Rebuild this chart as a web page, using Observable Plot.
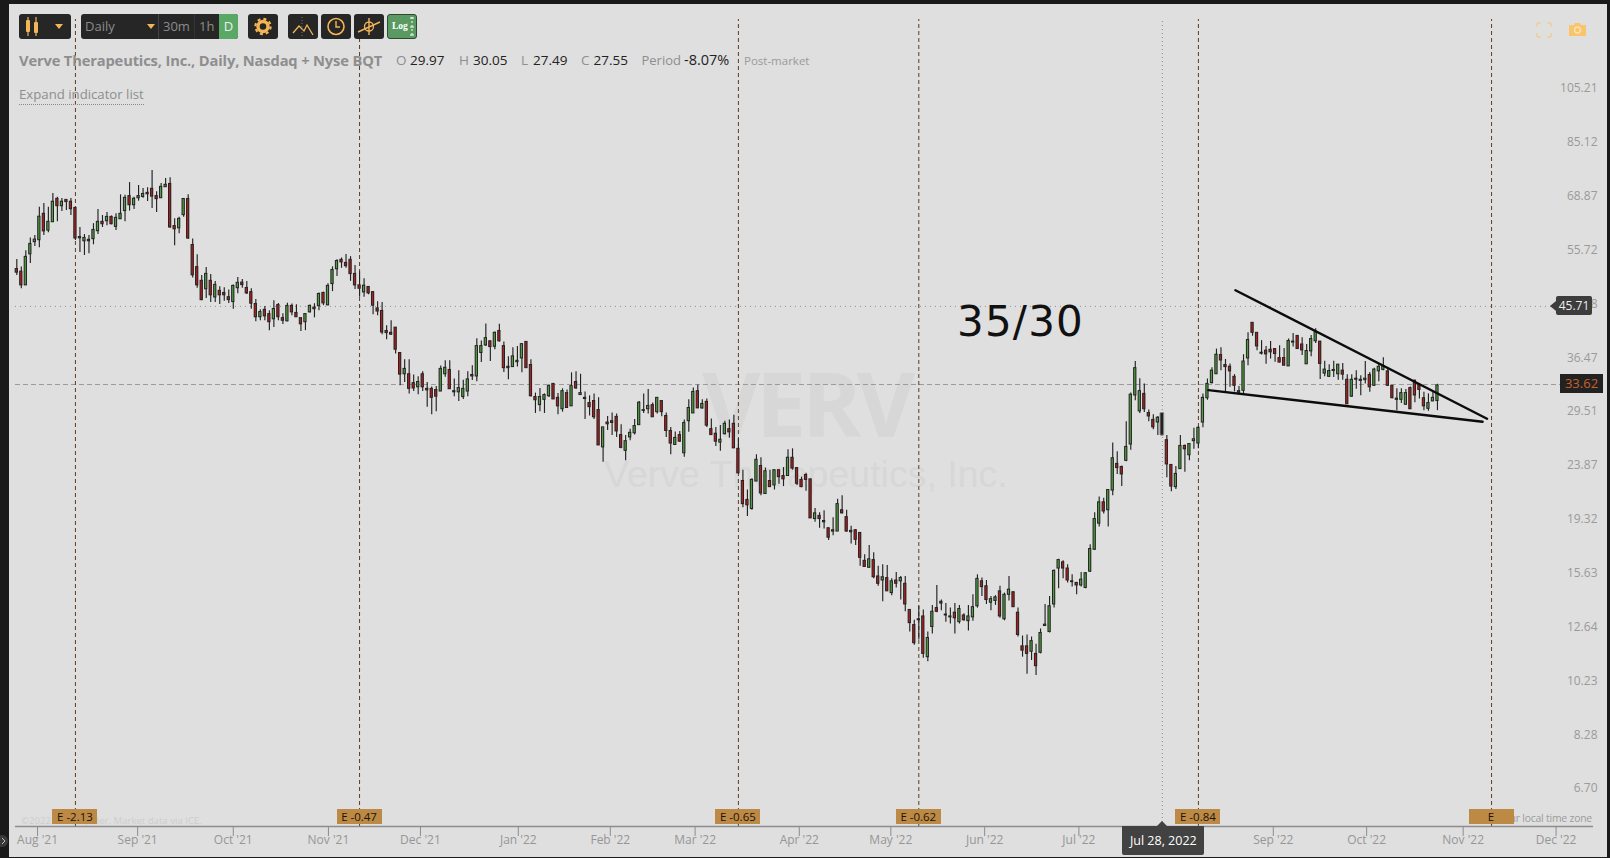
<!DOCTYPE html>
<html><head><meta charset="utf-8">
<script src="https://cdn.jsdelivr.net/npm/d3@7"></script>
<script src="https://cdn.jsdelivr.net/npm/@observablehq/plot@0.6"></script>
<style>
html,body{margin:0;padding:0;background:#1a1a1a;overflow:hidden}
#stage{position:relative;width:1610px;height:858px;font-family:"Open Sans",sans-serif;overflow:hidden}
#panel{position:absolute;left:9px;top:4px;width:1598px;height:853px;background:#dfdfdf}
.abs{position:absolute;white-space:nowrap}
.box{position:absolute;top:14px;height:25px;background:#262626;border-radius:3px;box-sizing:border-box}
.wm{color:#d7d7d7}
svg.chart{position:absolute;left:0;top:0;background:transparent}
.badge{position:absolute;top:809px;height:15px;width:45px;background:#bc8a45;color:#1c1208;font-size:11.5px;line-height:15px;text-align:center}
.g{color:#8e8e8e}.k{color:#222}
</style></head><body><div id="stage"><div id="panel"></div>
<div class="abs wm" style="left:702px;top:342px;font:bold 90px/120px 'Open Sans',sans-serif;letter-spacing:-4.5px">VERV</div>
<div class="abs wm" style="left:604px;top:449px;font:37.5px/50px 'Liberation Sans',sans-serif">Verve Therapeutics, Inc.</div>
<div class="abs" style="left:21px;top:814px;font-size:9.6px;color:#cdcdcd">©2022 TrendSpider. Market data via ICE.</div>
<div class="abs" style="right:18px;top:811px;font-size:10.4px;letter-spacing:-.2px;color:#9c9c9c">ur local time zone</div>
</div>
<script>
const opens=[52.95,52.4,49.65,56.1,58.85,59.3,65.8,61.6,63.65,69.8,
67.8,69.5,69,67.35,60.05,59.05,59.4,59.55,61.45,63.75,
63.9,65,62.5,64.4,66.5,70.55,68.05,69.95,70.3,71.45,
72.6,70.55,69.95,73.05,74,62.7,62.15,65.45,69.75,58.2,
53.35,50.55,48.9,50.55,47.35,48.6,48.2,47.4,46.5,49.1,
50.2,49.15,48.35,46.15,43.8,45.1,44.35,43.45,45.95,43.65,
43.1,45.8,44.55,43.65,42.95,44.65,45.5,45.75,48.2,45.9,
49.9,52.9,54.9,54.25,54.9,51.95,49.65,48.3,49.35,48.35,
45.35,44.9,41.5,41.2,42.05,38.05,35,35,33.8,33.25,
35,33.05,33.05,32.9,32.7,35,35.6,32.75,32.6,32,
32.7,34.9,34.7,38.05,39.2,39.85,39,41.5,39.1,36.05,
36,36.7,37.25,39.75,36.3,32,31,31.65,32.1,33.7,
31.9,30.5,32.5,30.85,33.95,32.25,31.9,31.25,31.5,30.4,
26.25,28.95,29.1,29.6,27.55,25.9,27.3,27.75,28.65,30.3,
30.5,31,30.15,31.5,29.7,28,26.5,27.55,25.65,29.1,
30,32.75,30.6,31.4,28.2,27.7,26.75,27.65,28.2,28.8,
26.1,23,21.35,20.6,22.95,24.4,21.85,23,22.6,24,
23.45,23.45,25.2,24.2,23.1,23.55,23.15,19.8,20.05,19.65,
19.1,18.95,18.85,20.5,19.95,18.9,18.95,18.75,16.8,16.35,
16.85,15.8,15.55,15.7,14.8,15.55,15.5,15.35,13.85,13.05,
13.35,13.5,11.5,12.95,13.95,14.3,13.6,13.5,13.7,13.2,
13.55,13.25,13.45,14.05,15.5,15.2,14.25,14.35,14.9,13.35,
14.7,14.85,13.7,12,12,11.75,11.65,11.7,13,12.7,
14.15,16.3,16.7,16.3,15.5,15.4,15.25,15.1,16.1,17.55,
19.45,21.15,20.5,22.15,24.6,24.3,24.9,26.55,32.2,30.25,
32.4,30.05,29.25,28.95,29.97,27,24.5,22.45,24.1,26.4,
25.45,26.9,26.65,28.95,31.85,33.8,35,37.75,36.3,36.05,
34.65,32.75,32.8,37.25,42.85,41.2,38.1,38.4,38.55,38.65,
37.3,37.3,36.1,39.65,40.7,39.35,36.4,38.3,39.85,39.8,
35.1,34.65,35.45,35,35.5,34.25,32.05,34.4,34.1,34.2,
34.9,33.45,35.4,35.6,35.4,33.45,31.8,31.65,31.05,33.15,
34.13,33.5,31.85,30.55,31.45,31.5];
const highs=[54.95,53.4,56.9,59.85,60.4,67.55,68.53,67.55,71.25,70.25,
69.85,69.5,69.85,67.35,62.35,60.65,60.4,63.3,66.9,65.35,
66.15,65.25,65.8,70.9,70.8,74.4,70.2,73.55,72.7,72.9,
78,71.75,74.1,75.6,75.8,64.5,64.9,69.75,70.9,59.6,
56,51.6,53.25,51.8,50.4,49.4,49.2,48.75,49.75,51.2,
50.8,50.4,49,46.95,45.1,45.7,44.95,46.75,46.25,44.4,
46.3,46.15,46,43.65,44.35,45.95,46.2,48.2,48.35,49.95,
53.4,54.9,55.3,56.05,55.6,53.7,52.4,50.95,49.45,48.4,
46.55,46.4,42.35,43.2,42.05,38.1,37.05,37.05,34.9,34.65,
35.35,33.9,33.3,33.35,36.15,36.9,36.9,34.35,35.5,34.2,
35.35,36.2,40.25,39.9,42.65,39.85,41.35,42.6,39.75,37.5,
38.85,39.05,39.5,39.75,37.05,32.5,33.1,32.4,33.6,33.7,
32.45,33.05,32.9,35.2,35.35,35,32.65,32.15,32.4,31.9,
28.4,29.65,30.05,29.95,28.7,27.5,28.2,29.3,31.45,32.4,
32.95,31.25,31.9,31.55,30.05,28.4,27.9,27.95,29.25,31.65,
33.15,33.55,31.65,31.75,29.35,28.4,28.6,29.1,29.25,29.8,
27.15,24,22.2,23.2,25.5,25.2,24.2,24,24,24,
24.25,26,26.1,24.2,23.35,23.7,23.15,20.65,20.3,20.45,
19.1,19.9,21.4,21.7,20.5,19.25,19,18.75,17.2,17.85,
17.35,16.45,16.55,16.5,15.65,16.05,15.8,15.8,13.85,13.3,
14.05,13.85,12.7,14.1,15.25,14.4,14.2,13.95,14.2,14.1,
13.65,14.1,14.7,15.9,15.7,15.55,14.6,14.65,15.2,14.8,
15.8,14.85,13.95,12.5,12.55,12.45,12.1,12.85,14.15,14.6,
16.2,16.9,16.8,16.55,15.9,15.45,16.05,16.05,17.9,20.3,
21.6,21.5,22.25,26.7,25.8,24.4,29.05,32.5,36.8,34.4,
33.7,30.4,29.85,29.65,30.05,27.5,24.5,24.35,27.5,26.5,
26.6,28.3,28.5,32.4,34.35,35.9,38.65,38.85,37.1,36.45,
34.95,33.35,37.8,41.2,42.85,41.2,39.95,39.05,39.8,38.65,
39.15,38.75,40.2,41.1,40.7,40.4,39.35,40.75,41.85,39.8,
36.85,36.35,36.85,36.35,36.5,34.95,34.95,35.5,34.8,36.8,
35.25,35.85,36.45,37.35,35.75,33.45,33.05,33.05,32.95,33.3,
34.2,33.75,32.6,32.4,32.6,33.65];
const lows=[51.6,49,49.65,54.1,57.85,57.6,60.4,61.1,63.65,63.8,
66.4,66.65,65.35,59.25,56.5,55.85,56.25,58.25,60.65,62.35,
62.8,63,61.6,64.35,63.8,66.5,66.9,69.15,69.95,69.05,
67.2,66.15,69.85,72.95,62.15,58,60.85,64.9,59.45,51.1,
49.1,46.75,47.15,46.4,46.4,46.05,46.65,46.25,45.2,48.05,
49.1,47.9,45.2,43.05,43.2,43.2,41.55,42.05,43.2,42.55,
43.05,44.05,43.8,41.4,41.55,44.55,43.7,44.95,45.85,45.85,
48.45,51.4,53.1,53.1,50.45,48.85,47.4,47.4,47.85,44.25,
44.05,40.9,40.1,40.75,37.9,33.45,33.9,32.4,32.7,32.3,
32.7,30.75,29.85,30.2,32.7,34.6,33,32.05,31.45,31.7,
32.05,34.15,34,36.65,39.05,36.8,38.55,39.7,35.25,34.25,
36,36,35.2,35.85,32,30,30.2,30,31.95,31.7,
29.85,30.15,30.65,30.85,33,32.2,29.3,29.7,29.3,26.45,
24.75,28.05,27.5,27.3,26.1,24.9,26.95,27.55,28.6,30,
29.95,29.55,29.95,29.6,27.3,25.5,26.45,26.75,25.25,27.85,
30,30.6,30.5,28.4,27.55,26.35,25.85,27.55,27.2,26.15,
23.7,20.7,20,20.5,22.95,21.7,21.85,22.45,22.2,22.7,
22.5,23.45,24,22.6,22.4,22.1,19.85,19.55,19.1,19.05,
18.2,18.55,18.85,20.2,18.8,17.95,17.85,16.45,16.4,16.3,
15.65,15.2,14.3,14.9,14.65,15.1,14.4,13.75,12.7,12.05,
12.3,11.45,11.3,12.6,13.7,13.8,13.2,13.1,12.6,13.1,
13.25,12.75,13.25,13.95,14.6,14.15,13.8,14.1,13.4,13.27,
14.35,14,12.45,11.5,10.75,11.35,10.7,11.65,13,12.65,
13.95,15.05,15.65,15.4,15.15,14.7,15.15,15.05,16.05,17.5,
19.2,20.2,19.2,21.7,23.6,22.5,24.8,25.95,31.55,30,
30.1,29.05,28.15,27.5,27.49,23.3,22.05,22.25,24.1,23.8,
24.9,26.05,26.1,28.35,31.6,33.7,35,35.5,32.7,33.25,
32.65,32.4,32.4,36.2,40.65,38.4,37.75,36.4,37.15,36.7,
36.6,36.2,36.1,38.95,38.65,37.7,36.4,37.5,39.5,34.3,
34.65,34.55,34.55,34.2,34.2,31.1,31.95,33,32.15,33.7,
32.6,33.35,34,35.5,33.35,31.8,30.33,31.2,30.95,30.5,
31.3,31.75,30.33,30.25,31.45,30.33];
const closes=[52.2,49.65,55.55,58.45,59.45,65.05,61.4,63.75,69,67.8,
69,68.9,67,59.7,59.75,59.85,59.05,61.75,63.75,63.15,
65,63.15,64.75,65.8,70.05,68.05,69.8,70.55,71.15,71.05,
70.4,69.7,73.15,73.75,62.35,61.9,64.5,69.75,59.7,51.65,
49.65,46.85,51.95,47.75,49.75,47.75,47.75,46.85,49.55,50.15,
49.7,48.1,46.2,43.8,44.7,43.95,42.95,45.25,43.8,43.2,
45.8,44.65,43.8,42.6,44.35,45.8,45.2,48,46.25,49.55,
52.75,54.65,54.35,53.55,51.9,49.65,49,49.6,48.1,45.85,
44.8,41.25,41.15,40.9,38.55,34.95,35.75,33.05,33.1,33.95,
33.25,32.85,31.9,32.05,35.75,35.9,33,32.6,33.15,33.05,
34.3,34.7,39.1,39.1,40.35,38.95,41.2,39.85,35.85,35.85,
37.55,36.9,39.4,35.85,32.1,31.6,32,32.25,33.4,31.7,
30.85,32.75,30.65,33.4,33.1,32.5,31.75,30.75,29.55,26.45,
28.4,28.75,28.9,27.95,26.2,26.9,27.8,28.55,31.3,30.4,
30.9,29.55,31.9,30.15,28,26.65,27.25,26.85,28.9,30.65,
32.65,30.6,31.15,28.6,27.55,26.85,27.05,28.8,27.85,26.15,
23.7,21,20.9,23.1,25,21.9,23.9,22.45,24,23.35,
23.15,25.2,24.15,22.75,22.45,23.1,19.85,20.25,19.8,19.55,
18.4,18.85,21,20.25,18.85,18.8,18.25,17,16.4,16.9,
15.75,15.35,15.75,14.9,15.5,15.35,15.7,14.15,13.15,12.15,
13.3,11.65,12.4,13.75,13.75,14.2,13.55,13.45,13.4,13.9,
13.3,13.5,14,15.65,15.15,14.4,14.45,14.55,13.5,14.7,
15,14,12.55,11.8,11.65,12.25,11.1,12.65,13.07,14.05,
16.15,16.85,16.3,15.55,15.45,15.25,15.6,16,17.6,19.8,
21.15,20.4,22.2,25.15,24.2,23.6,26.3,32.3,35.85,32.75,
30.5,29.65,28.4,29.5,27.55,24.55,22.5,23.65,26.4,26.05,
26.6,27.1,28.35,31.9,33.7,35.5,37.8,36.95,36,35.4,
33.45,32.55,36.8,40.05,41.2,39.05,37.95,37.85,38.15,37.9,
36.65,36.2,39.9,39.8,38.65,38.45,38.35,40.2,41.3,36.45,
35.65,35.45,35.6,36.35,34.95,31.1,34.25,34.25,34.25,34.4,
33.25,35.65,36.05,36.15,33.45,31.85,31.65,32.5,32.5,30.5,
32.2,32.9,30.85,31.25,31.9,33.5];

const priceTicks=[105.21,85.12,68.87,55.72,45.08,36.47,29.51,23.87,19.32,15.63,12.64,10.23,8.28,6.70];
const monthPos=[4.6,26.8,48,69.1,89.5,111.2,131.6,150.4,173.5,193.8,214.6,235.5,278.6,299.3,320.7,341.3];
const monthNames=["Aug '21","Sep '21","Oct '21","Nov '21","Dec '21","Jan '22","Feb '22","Mar '22","Apr '22","May '22","Jun '22","Jul '22","Sep '22","Oct '22","Nov '22","Dec '22"];
const earningsPos=[13,76,160,200,262,327];
const earningsText=["E -2.13","E -0.47","E -0.65","E -0.62","E -0.84","E"];
const cursorPos=254, cursorText="Jul 28, 2022";
const lastPrice=33.62, markPrice=45.71;
const upperLine=[{i:270.2,p:48.71},{i:326,p:29.38}];
const lowerLine=[{i:264.2,p:32.88},{i:325,p:29.03}];

const candles=opens.map((o,i)=>({i,open:o,high:highs[i],low:lows[i],close:closes[i]}));
const W=.25;
const yLo=5.908,yHi=152.28,topP=141.3;
const chart=Plot.plot({
  width:1610,height:858,marginTop:0,marginLeft:0,marginRight:0,marginBottom:32,
  style:{background:"transparent",overflow:"visible"},
  x:{type:"linear",domain:[-3.614,353.37],range:[0,1610]},
  y:{type:"log",domain:[yLo,yHi]},
  color:{type:"identity"},
  marks:[
    Plot.ruleY([markPrice],{x1:-0.3,x2:341.4,stroke:"#8a8a8a",strokeWidth:1,strokeDasharray:"1,4"}),
    Plot.ruleY([lastPrice],{x1:-0.3,x2:342.3,stroke:"#9a9a9a",strokeWidth:1,strokeDasharray:"5,3"}),
    Plot.ruleX(earningsPos,{y1:yLo,y2:topP,stroke:"#5c3d22",strokeWidth:1,strokeDasharray:"4,3"}),
    Plot.ruleX([cursorPos],{y1:yLo,y2:topP,stroke:"#8a8a8a",strokeWidth:1,strokeDasharray:"1,3"}),
    Plot.ruleX(candles,{x:"i",y1:"low",y2:"high",stroke:"#222",strokeWidth:1.15}),
    Plot.rect(candles,{x1:d=>d.i-W,x2:d=>d.i+W,y1:"open",y2:"close",
      fill:d=>d.close>=d.open?"#4f9e3f":"#b01e1e",stroke:"#222",strokeWidth:1}),
    Plot.rect(candles.filter(d=>d.i===cursorPos),{x1:d=>d.i-.42,x2:d=>d.i+.42,y1:"high",y2:"low",
      fill:"#222",stroke:"#999",strokeWidth:1,rx:1}),
    Plot.line(upperLine,{x:"i",y:"p",stroke:"#0c0c0c",strokeWidth:2.4}),
    Plot.line(lowerLine,{x:"i",y:"p",stroke:"#0c0c0c",strokeWidth:2.4}),
    Plot.ruleY([yLo],{x1:-0.3,x2:349.6,stroke:"#8d8d8d",strokeWidth:1.4}),
    Plot.axisX({ticks:monthPos,tickSize:10,tickPadding:-1,label:null,
      tickFormat:v=>monthNames[monthPos.indexOf(v)],stroke:"#8d8d8d",fill:"#969696",fontSize:12,
      fontFamily:"Open Sans",strokeOpacity:1}),
    Plot.text(priceTicks,{y:d=>d,text:d=>d.toFixed(2),frameAnchor:"right",textAnchor:"end",dx:-13,dy:-6,
      fill:"#9a9a9a",fontSize:12,fontFamily:"Open Sans"})
  ]
});
chart.classList.add("chart");
const stage=document.getElementById("stage");
stage.appendChild(chart);
const X=v=>chart.scale("x").apply(v), Y=v=>chart.scale("y").apply(v);
function add(html){const t=document.createElement("template");t.innerHTML=html.trim();const n=t.content.firstChild;stage.appendChild(n);return n;}

earningsPos.forEach((p,k)=>add(`<div class="badge" style="left:${X(p)-22.5}px">${earningsText[k]}</div>`));

add(`<div class="abs" style="left:957px;top:293px;font:42px/58px 'DejaVu Sans',sans-serif;letter-spacing:1.2px;color:#111">35/30</div>`);

const cx=X(cursorPos);
add(`<div class="abs" style="left:${cx-39.5}px;top:826px;width:82px;height:29px;background:#424242;color:#fff;font-size:12.5px;line-height:29px;text-align:center;border-radius:0 0 2px 2px">${cursorText}</div>`);
add(`<svg class="abs" style="left:${cx-5}px;top:821px" width="10" height="5"><path d="M0 5L5 0L10 5Z" fill="#424242"/></svg>`);

const ym=Y(markPrice), yl=Y(lastPrice);
add(`<div class="abs" style="left:1556px;top:${ym-9.5}px;width:36px;height:19px;background:#3d3d3d;color:#eee;font-size:12px;line-height:19px;text-align:center;border-radius:2px">${markPrice}</div>`);
add(`<svg class="abs" style="left:1550px;top:${ym-5}px" width="6" height="10"><path d="M6 0L0 5L6 10Z" fill="#3d3d3d"/></svg>`);
add(`<div class="abs" style="left:1560px;top:${yl-9.5}px;width:43px;height:19px;background:#222;color:#c8602a;font-size:13px;line-height:19px;text-align:center">${lastPrice}</div>`);

const or="#f3b556";
add(`<div class="box" style="left:19px;width:52px"><svg width="52" height="25"><path d="M9 3V22M17 3V22" stroke="${or}" stroke-width="1.2"/><rect x="7" y="6" width="4" height="12" rx="1" fill="${or}"/><rect x="15" y="8" width="4" height="11" rx="1" fill="${or}"/><path d="M36 10H44L40 15Z" fill="${or}"/></svg></div>`);
add(`<div class="box" style="left:81px;width:157px;color:#8b8b8b;font-size:13px;line-height:25px"><span class="abs" style="left:4px">Daily</span><svg class="abs" style="left:65px;top:0" width="10" height="25"><path d="M1 10H9L5 15Z" fill="${or}"/></svg><span class="abs" style="left:77px;top:0;width:1px;height:25px;background:#444"></span><span class="abs" style="left:82px">30m</span><span class="abs" style="left:113px;top:0;width:1px;height:25px;background:#333"></span><span class="abs" style="left:118px">1h</span><span class="abs" style="left:138px;top:0;width:19px;height:25px;background:#5aa866;color:#eee;text-align:center;border-radius:0 3px 3px 0">D</span></div>`);
add(`<div class="box" style="left:248px;width:30px"><svg width="30" height="25"><circle cx="15" cy="12.5" r="5" fill="none" stroke="${or}" stroke-width="3.4"/><circle cx="15" cy="12.5" r="7.6" fill="none" stroke="${or}" stroke-width="2.2" stroke-dasharray="3,3"/></svg></div>`);
add(`<div class="box" style="left:288px;width:30px"><svg width="30" height="25"><path d="M5 19L11 12L16 17L19 11L25 21" fill="none" stroke="${or}" stroke-width="1.3"/><path d="M14 3V22" stroke="#777" stroke-dasharray="1,2"/></svg></div>`);
add(`<div class="box" style="left:321px;width:30px"><svg width="30" height="25"><circle cx="15" cy="12.5" r="8" fill="none" stroke="${or}" stroke-width="1.6"/><path d="M15 7V13H19" fill="none" stroke="${or}" stroke-width="1.4"/></svg></div>`);
add(`<div class="box" style="left:354px;width:30px"><svg width="30" height="25"><circle cx="15" cy="12.5" r="4.5" fill="none" stroke="${or}" stroke-width="1.3"/><path d="M4 18L26 8M15 4V21" stroke="${or}" stroke-width="1.4"/></svg></div>`);
add(`<div class="box" style="left:387px;width:30px;background:#5a9a62;border:1px solid #2c4a30"><span class="abs" style="left:4px;top:3px;font:bold 9.5px/16px 'Liberation Serif',serif;color:#fff">Log</span><svg class="abs" style="left:20px;top:0" width="8" height="23"><path d="M4 2V21" stroke="#fff" stroke-dasharray="2,2"/><path d="M2 3H6M2 12H6M2 20H6" stroke="#fff"/></svg></div>`);

add(`<div class="abs" style="left:19px;top:50px;font-size:14.7px;line-height:20px;font-weight:700;color:#8e8e8e;letter-spacing:-.15px">Verve Therapeutics, Inc., Daily, Nasdaq + Nyse BQT</div>`);
[[396,"O","g",13.5],[410,"29.97","k",13.5],[459,"H","g",13.5],[473,"30.05","k",13.5],[521,"L","g",13.5],[533,"27.49","k",13.5],[581,"C","g",13.5],[593.5,"27.55","k",13.5],[641.5,"Period","g",13],[684,"-8.07%","k",14.5]]
 .forEach(([l,t,c,f])=>add(`<div class="abs ${c}" style="left:${l}px;top:50px;font-size:${f}px;line-height:20px">${t}</div>`));
add(`<div class="abs" style="left:744px;top:51px;font-size:11.5px;line-height:20px;color:#9a9a9a">Post-market</div>`);
add(`<div class="abs" style="left:19px;top:85px;font-size:13.2px;line-height:19px;color:#8e8e8e;border-bottom:1px dotted #888">Expand indicator list</div>`);

add(`<svg class="abs" style="left:1536px;top:22px" width="16" height="16"><path d="M1 5V1H5M11 1H15V5M15 11V15H11M5 15H1V11" fill="none" stroke="#f6c67c" stroke-width="1"/></svg>`);
add(`<svg class="abs" style="left:1569px;top:21px" width="17" height="15"><path d="M0 4H5L6 2H11L12 4H17V15H0Z" fill="#f9c46a"/><circle cx="8.5" cy="9" r="3" fill="#f9c46a" stroke="#fbe3b8" stroke-width="1.4"/></svg>`);
add(`<svg class="abs" style="left:0;top:834px" width="9" height="14"><circle cx="2" cy="7" r="6" fill="#3a3a3a"/><path d="M2 4L5 7L2 10" fill="none" stroke="#bbb"/></svg>`);
</script></body></html>
